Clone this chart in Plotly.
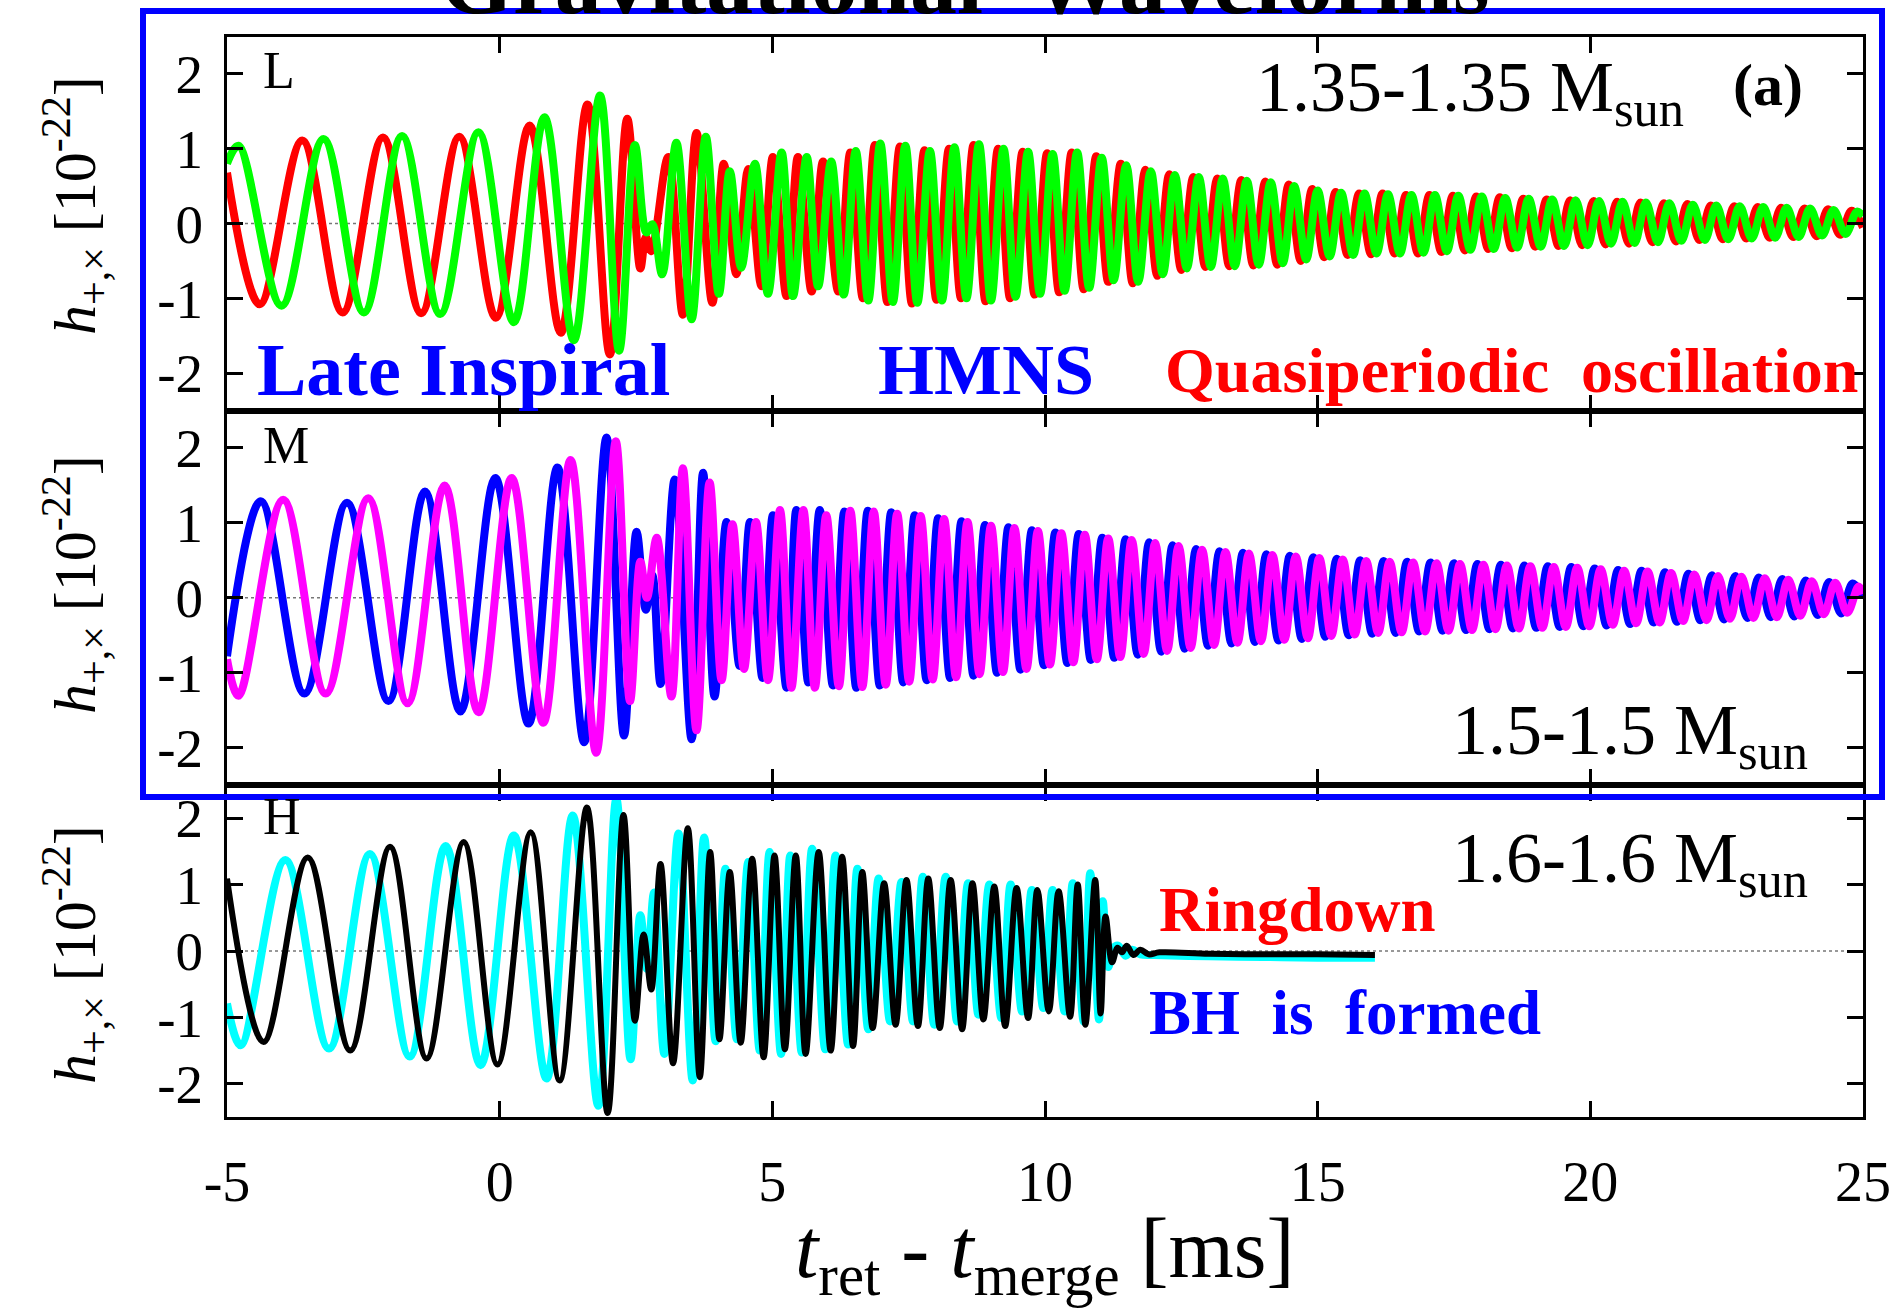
import plotly.graph_objects as go

# ---------------- data (extrema) ----------------
X_TICKS = [-5, 0, 5, 10, 15, 20, 25]
X_TICK_TEXT = ["-5", "0", "5", "10", "15", "20", "25"]
Y_TICKS = [-2, -1, 0, 1, 2]
Y_TICK_TEXT = ["-2", "-1", "0", "1", "2"]

# panel L : 1.35-1.35 Msun
L_RED = [(-5.00, 0.68), (-4.40, -1.08), (-3.62, 1.11), (-2.88, -1.19), (-2.14, 1.15), (-1.44, -1.20), (-0.74, 1.16), (-0.07, -1.26), (0.55, 1.31), (1.12, -1.46), (1.61, 1.59), (2.02, -1.75), (2.34, 1.40), (2.58, -0.60), (2.68, -0.18), (2.78, -0.37), (3.09, 0.89), (3.36, -1.22), (3.61, 1.21), (3.90, -1.06), (4.11, 0.80), (4.34, -0.68), (4.56, 0.73), (4.80, -0.84), (5.01, 0.89), (5.26, -0.97), (5.47, 0.89), (5.72, -0.91), (5.93, 0.83), (6.21, -0.91), (6.43, 0.95), (6.66, -1.00), (6.88, 1.05), (7.11, -1.05), (7.34, 1.03), (7.56, -1.07), (7.79, 0.98), (8.01, -1.02), (8.24, 1.00), (8.46, -1.00), (8.69, 1.05), (8.91, -1.04), (9.14, 1.00), (9.36, -1.00), (9.59, 0.96), (9.81, -0.95), (10.04, 0.94), (10.26, -0.92), (10.49, 0.95), (10.71, -0.88), (10.94, 0.90), (11.16, -0.78), (11.39, 0.80), (11.61, -0.80), (11.84, 0.72), (12.06, -0.70), (12.28, 0.66), (12.50, -0.62), (12.72, 0.62), (12.94, -0.58), (13.16, 0.60), (13.38, -0.57), (13.60, 0.58), (13.82, -0.56), (14.04, 0.56), (14.26, -0.55), (14.47, 0.52), (14.69, -0.50), (14.90, 0.46), (15.12, -0.45), (15.33, 0.42), (15.55, -0.42), (15.76, 0.40), (15.98, -0.41), (16.19, 0.40), (16.41, -0.40), (16.62, 0.38), (16.84, -0.40), (17.05, 0.38), (17.27, -0.38), (17.48, 0.37), (17.70, -0.36), (17.91, 0.36), (18.13, -0.34), (18.34, 0.35), (18.56, -0.33), (18.77, 0.33), (18.99, -0.31), (19.20, 0.32), (19.42, -0.30), (19.63, 0.31), (19.85, -0.29), (20.06, 0.30), (20.28, -0.28), (20.49, 0.29), (20.71, -0.27), (20.92, 0.28), (21.14, -0.25), (21.35, 0.27), (21.57, -0.24), (21.78, 0.26), (22.00, -0.22), (22.21, 0.24), (22.43, -0.21), (22.64, 0.23), (22.86, -0.20), (23.07, 0.22), (23.29, -0.19), (23.50, 0.21), (23.72, -0.18), (23.93, 0.20), (24.15, -0.17), (24.36, 0.19), (24.58, -0.15), (24.79, 0.17), (25.00, -0.05)]

L_GREEN = [(-5.00, 0.80), (-4.79, 1.04), (-4.00, -1.10), (-3.23, 1.13), (-2.49, -1.19), (-1.79, 1.17), (-1.09, -1.21), (-0.39, 1.22), (0.26, -1.32), (0.82, 1.42), (1.36, -1.56), (1.84, 1.71), (2.19, -1.70), (2.48, 1.05), (2.69, -0.12), (2.80, -0.01), (2.98, -0.68), (3.24, 1.08), (3.52, -1.28), (3.78, 1.16), (4.02, -0.94), (4.22, 0.70), (4.43, -0.59), (4.68, 0.80), (4.92, -0.94), (5.17, 0.95), (5.38, -0.97), (5.63, 0.89), (5.84, -0.84), (6.08, 0.83), (6.31, -0.95), (6.53, 0.97), (6.76, -1.03), (6.98, 1.07), (7.21, -1.05), (7.44, 1.04), (7.66, -1.06), (7.89, 0.97), (8.11, -1.03), (8.34, 1.02), (8.56, -1.00), (8.79, 1.06), (9.01, -1.03), (9.24, 1.00), (9.46, -0.98), (9.69, 0.96), (9.91, -0.94), (10.14, 0.93), (10.36, -0.90), (10.59, 0.95), (10.81, -0.86), (11.04, 0.88), (11.26, -0.76), (11.49, 0.78), (11.71, -0.78), (11.94, 0.70), (12.16, -0.68), (12.38, 0.65), (12.60, -0.60), (12.82, 0.62), (13.04, -0.58), (13.26, 0.60), (13.48, -0.57), (13.70, 0.57), (13.92, -0.55), (14.14, 0.55), (14.36, -0.53), (14.57, 0.50), (14.79, -0.48), (15.00, 0.44), (15.22, -0.44), (15.43, 0.41), (15.65, -0.42), (15.86, 0.40), (16.08, -0.40), (16.29, 0.39), (16.51, -0.40), (16.72, 0.38), (16.94, -0.39), (17.15, 0.38), (17.37, -0.37), (17.58, 0.37), (17.80, -0.35), (18.01, 0.36), (18.23, -0.34), (18.44, 0.34), (18.66, -0.32), (18.87, 0.33), (19.09, -0.31), (19.30, 0.32), (19.52, -0.30), (19.73, 0.31), (19.95, -0.29), (20.16, 0.30), (20.38, -0.27), (20.59, 0.29), (20.81, -0.26), (21.02, 0.28), (21.24, -0.25), (21.45, 0.27), (21.67, -0.23), (21.88, 0.25), (22.10, -0.22), (22.31, 0.24), (22.53, -0.21), (22.74, 0.23), (22.96, -0.20), (23.17, 0.22), (23.39, -0.19), (23.60, 0.21), (23.82, -0.18), (24.03, 0.20), (24.25, -0.16), (24.46, 0.18), (24.68, -0.14), (24.89, 0.16), (25.00, 0.10)]

# panel M : 1.5-1.5 Msun
M_BLUE = [(-5.00, -0.78), (-4.38, 1.29), (-3.58, -1.28), (-2.80, 1.27), (-2.04, -1.38), (-1.37, 1.42), (-0.72, -1.52), (-0.08, 1.60), (0.53, -1.68), (1.06, 1.74), (1.55, -1.93), (1.96, 2.14), (2.28, -1.84), (2.51, 0.88), (2.68, -0.16), (2.80, 0.30), (2.95, -1.15), (3.21, 1.58), (3.52, -1.89), (3.73, 1.67), (3.94, -1.32), (4.16, 1.01), (4.40, -0.91), (4.59, 1.01), (4.82, -1.07), (5.01, 1.10), (5.26, -1.20), (5.44, 1.17), (5.66, -1.13), (5.87, 1.17), (6.11, -1.17), (6.32, 1.15), (6.54, -1.20), (6.75, 1.16), (6.97, -1.17), (7.18, 1.14), (7.40, -1.13), (7.61, 1.10), (7.83, -1.10), (8.04, 1.06), (8.26, -1.07), (8.47, 1.02), (8.69, -1.04), (8.90, 0.97), (9.12, -1.00), (9.33, 0.94), (9.55, -0.96), (9.76, 0.90), (9.98, -0.90), (10.19, 0.87), (10.41, -0.87), (10.62, 0.85), (10.84, -0.83), (11.05, 0.80), (11.27, -0.80), (11.48, 0.78), (11.70, -0.76), (11.91, 0.74), (12.13, -0.72), (12.34, 0.70), (12.56, -0.68), (12.77, 0.65), (12.99, -0.64), (13.20, 0.62), (13.42, -0.61), (13.63, 0.60), (13.85, -0.59), (14.06, 0.58), (14.28, -0.57), (14.49, 0.56), (14.71, -0.55), (14.92, 0.54), (15.14, -0.52), (15.35, 0.52), (15.57, -0.50), (15.78, 0.50), (16.00, -0.48), (16.21, 0.49), (16.43, -0.47), (16.64, 0.48), (16.86, -0.45), (17.07, 0.47), (17.29, -0.44), (17.50, 0.46), (17.72, -0.43), (17.93, 0.45), (18.15, -0.42), (18.36, 0.44), (18.58, -0.41), (18.79, 0.43), (19.01, -0.40), (19.22, 0.42), (19.44, -0.39), (19.65, 0.41), (19.87, -0.38), (20.08, 0.39), (20.30, -0.37), (20.51, 0.37), (20.73, -0.35), (20.94, 0.36), (21.16, -0.33), (21.37, 0.34), (21.59, -0.32), (21.80, 0.32), (22.02, -0.30), (22.23, 0.30), (22.45, -0.29), (22.66, 0.29), (22.88, -0.27), (23.09, 0.27), (23.31, -0.26), (23.52, 0.25), (23.74, -0.25), (23.95, 0.23), (24.17, -0.23), (24.38, 0.21), (24.60, -0.21), (24.81, 0.19), (25.00, 0.02)]

M_MAGENTA = [(-5.00, -0.82), (-4.79, -1.31), (-3.97, 1.31), (-3.19, -1.28), (-2.41, 1.33), (-1.69, -1.41), (-1.01, 1.50), (-0.39, -1.53), (0.22, 1.60), (0.80, -1.67), (1.30, 1.84), (1.77, -2.07), (2.13, 2.09), (2.39, -1.38), (2.58, 0.48), (2.70, 0.00), (2.88, 0.80), (3.15, -1.32), (3.36, 1.73), (3.61, -1.77), (3.85, 1.54), (4.07, -1.10), (4.27, 0.98), (4.48, -0.95), (4.70, 1.01), (4.92, -1.10), (5.14, 1.17), (5.35, -1.20), (5.57, 1.17), (5.78, -1.20), (5.99, 1.10), (6.22, -1.18), (6.43, 1.16), (6.65, -1.19), (6.86, 1.15), (7.08, -1.16), (7.29, 1.12), (7.51, -1.12), (7.72, 1.09), (7.94, -1.09), (8.15, 1.05), (8.37, -1.06), (8.58, 1.01), (8.80, -1.02), (9.01, 0.96), (9.23, -0.99), (9.44, 0.93), (9.66, -0.95), (9.87, 0.89), (10.09, -0.89), (10.30, 0.86), (10.52, -0.86), (10.73, 0.84), (10.95, -0.82), (11.16, 0.79), (11.38, -0.79), (11.59, 0.77), (11.81, -0.75), (12.02, 0.73), (12.24, -0.71), (12.45, 0.69), (12.67, -0.67), (12.88, 0.64), (13.10, -0.63), (13.31, 0.61), (13.53, -0.60), (13.74, 0.59), (13.96, -0.58), (14.17, 0.57), (14.39, -0.56), (14.60, 0.55), (14.82, -0.54), (15.03, 0.53), (15.25, -0.51), (15.46, 0.51), (15.68, -0.49), (15.89, 0.49), (16.11, -0.47), (16.32, 0.48), (16.54, -0.46), (16.75, 0.47), (16.97, -0.45), (17.18, 0.46), (17.40, -0.44), (17.61, 0.45), (17.83, -0.43), (18.04, 0.44), (18.26, -0.42), (18.47, 0.43), (18.69, -0.41), (18.90, 0.42), (19.12, -0.40), (19.33, 0.41), (19.55, -0.39), (19.76, 0.40), (19.98, -0.38), (20.19, 0.38), (20.41, -0.36), (20.62, 0.36), (20.84, -0.34), (21.05, 0.35), (21.27, -0.33), (21.48, 0.33), (21.70, -0.31), (21.91, 0.31), (22.13, -0.30), (22.34, 0.29), (22.56, -0.28), (22.77, 0.28), (22.99, -0.27), (23.20, 0.26), (23.42, -0.26), (23.63, 0.24), (23.85, -0.24), (24.06, 0.22), (24.28, -0.22), (24.49, 0.20), (24.71, -0.20), (24.92, 0.15), (25.00, 0.05)]

# panel H : 1.6-1.6 Msun
H_CYAN = [(-5.00, -0.79), (-4.75, -1.42), (-3.93, 1.37), (-3.13, -1.47), (-2.38, 1.46), (-1.65, -1.59), (-0.99, 1.58), (-0.35, -1.72), (0.26, 1.74), (0.86, -1.92), (1.34, 2.04), (1.81, -2.33), (2.14, 2.29), (2.40, -1.63), (2.58, 0.54), (2.70, -0.27), (2.83, 0.88), (3.02, -1.55), (3.28, 1.77), (3.54, -1.95), (3.75, 1.71), (3.96, -1.36), (4.14, 1.24), (4.35, -1.33), (4.56, 1.34), (4.77, -1.50), (4.95, 1.49), (5.16, -1.55), (5.33, 1.44), (5.54, -1.53), (5.73, 1.54), (5.97, -1.48), (6.16, 1.44), (6.39, -1.41), (6.56, 1.24), (6.76, -1.18), (6.95, 1.09), (7.16, -1.06), (7.37, 1.04), (7.58, -1.06), (7.76, 1.12), (7.97, -1.11), (8.18, 1.12), (8.39, -1.06), (8.59, 1.02), (8.78, -0.96), (8.98, 1.00), (9.20, -1.01), (9.37, 1.00), (9.58, -0.91), (9.76, 0.92), (9.97, -0.86), (10.14, 0.92), (10.36, -0.91), (10.51, 1.02), (10.71, -1.06), (10.83, 1.17), (10.99, -1.03), (11.06, 0.75), (11.16, -0.24), (11.26, 0.05), (11.34, 0.08), (11.48, -0.07), (11.60, 0.02), (11.75, -0.05), (12.00, -0.06), (13.00, -0.08), (14.00, -0.09), (15.00, -0.10), (16.05, -0.10)]

H_BLACK = [(-5.00, 1.09), (-4.33, -1.37), (-3.52, 1.41), (-2.74, -1.50), (-2.01, 1.57), (-1.34, -1.62), (-0.66, 1.64), (-0.04, -1.71), (0.57, 1.79), (1.10, -1.95), (1.60, 2.16), (1.98, -2.44), (2.27, 2.05), (2.48, -1.05), (2.64, 0.25), (2.78, -0.58), (2.95, 1.31), (3.18, -1.69), (3.45, 1.85), (3.67, -1.90), (3.86, 1.49), (4.03, -1.33), (4.22, 1.19), (4.42, -1.38), (4.63, 1.39), (4.84, -1.60), (5.04, 1.44), (5.23, -1.48), (5.43, 1.44), (5.61, -1.55), (5.85, 1.49), (6.07, -1.50), (6.28, 1.42), (6.48, -1.43), (6.65, 1.19), (6.84, -1.16), (7.05, 1.02), (7.26, -1.11), (7.46, 1.07), (7.67, -1.13), (7.86, 1.09), (8.07, -1.16), (8.27, 1.07), (8.48, -1.18), (8.67, 1.02), (8.87, -1.03), (9.07, 0.97), (9.27, -1.13), (9.48, 0.95), (9.69, -1.01), (9.86, 0.92), (10.07, -0.91), (10.25, 0.90), (10.46, -0.99), (10.60, 1.00), (10.74, -1.11), (10.92, 1.07), (11.02, -0.94), (11.11, 0.52), (11.23, -0.17), (11.33, 0.05), (11.41, -0.02), (11.50, 0.08), (11.62, -0.06), (11.75, 0.02), (11.90, -0.05), (12.10, -0.02), (13.00, -0.04), (14.00, -0.05), (15.00, -0.05), (16.05, -0.06)]

# ---------------- layout helpers ----------------
W, H = 1903, 1311
FONT = "Liberation Serif, Times New Roman, serif"
X_DOM = [227 / W, 1863 / W]
DOM_L = [1 - 410.5 / H, 1 - 36.5 / H]
DOM_M = [1 - 785 / H, 1 - 410.5 / H]
DOM_H = [1 - 1117 / H, 1 - 785 / H]


def yaxis(domain, anchor):
    return dict(domain=domain, anchor=anchor, range=[-2.5, 2.5],
                tickmode="array", tickvals=Y_TICKS, ticktext=Y_TICK_TEXT,
                ticks="inside", ticklen=16, tickwidth=2.5, tickcolor="black",
                showline=True, linecolor="black", linewidth=3, mirror="ticks",
                showgrid=False, zeroline=False, automargin=False,
                ticklabelstandoff=10,
                tickfont=dict(family=FONT, size=55, color="black"))


def xaxis(anchor, labels):
    return dict(domain=X_DOM, anchor=anchor, range=[-5, 25],
                tickmode="array", tickvals=X_TICKS, ticktext=X_TICK_TEXT,
                ticks="inside", ticklen=16, tickwidth=2.5, tickcolor="black",
                showline=True, linecolor="black", linewidth=3, mirror="ticks",
                showgrid=False, zeroline=False, automargin=False,
                showticklabels=labels, ticklabelstandoff=14,
                tickfont=dict(family=FONT, size=56, color="black"))


def ann(text, x, y, size, color="black", xanchor="left", yanchor="middle", angle=0):
    return dict(text=text, x=x / W, y=1 - y / H, xref="paper", yref="paper",
                xanchor=xanchor, yanchor=yanchor, showarrow=False, textangle=angle,
                font=dict(family=FONT, size=size, color=color))


fig = go.Figure()


def add(series, color, width, xa, ya):
    t, h = zip(*series)
    fig.add_trace(go.Scatter(x=list(t), y=list(h), mode="lines", xaxis=xa, yaxis=ya,
                             line=dict(color=color, width=width, shape="spline", smoothing=1.0),
                             hoverinfo="skip"))


add(L_RED, "#ff0000", 8, "x", "y")
add(L_GREEN, "#00ff00", 8, "x", "y")
add(M_BLUE, "#0000ff", 8, "x2", "y2")
add(M_MAGENTA, "#ff00ff", 8, "x2", "y2")
add(H_CYAN, "#00ffff", 8, "x3", "y3")
add(H_BLACK, "#000000", 6, "x3", "y3")

shapes = []
for xr, yr in (("x", "y"), ("x2", "y2"), ("x3", "y3")):
    shapes.append(dict(type="line", xref=xr, yref=yr, x0=-5, x1=25, y0=0, y1=0,
                       line=dict(color="#777777", width=1.5, dash="dot"), layer="below"))
shapes.append(dict(type="rect", xref="paper", yref="paper",
                   x0=143 / W, x1=1882 / W, y0=1 - 797 / H, y1=1 - 11 / H,
                   line=dict(color="#0000ff", width=6), fillcolor="rgba(0,0,0,0)", layer="above"))

ytitle = "<i>h</i><sub>+,×</sub> [10<sup>-22</sup>]"
annotations = [
    ann("<b>Gravitational\u00a0\u00a0Waveforms</b>", 965, -19, 94, xanchor="center"),
    ann("L", 261, 70, 52),
    ann("M", 261, 445, 52),
    ann("H", 261, 816, 52),
    ann("1.35-1.35 M<sub>sun</sub>", 1254, 92, 72),
    ann("<b>(a)</b>", 1805, 85, 60, xanchor="right"),
    ann("1.5-1.5 M<sub>sun</sub>", 1450, 735, 72),
    ann("1.6-1.6 M<sub>sun</sub>", 1450, 863, 72),
    ann("<b>Late Inspiral</b>", 255, 370, 74, color="#0000ff"),
    ann("<b>HMNS</b>", 876, 370, 72, color="#0000ff"),
    ann("<b>Quasiperiodic\u00a0\u00a0oscillation</b>", 1163, 370, 64, color="#ff0000"),
    ann("<b>Ringdown</b>", 1157, 910, 63, color="#ff0000"),
    ann("<b>BH\u00a0\u00a0is\u00a0\u00a0formed</b>", 1147, 1013, 63, color="#0000ff"),
    ann(ytitle, 75, 206, 60, xanchor="center", angle=-90),
    ann(ytitle, 75, 585, 60, xanchor="center", angle=-90),
    ann(ytitle, 75, 955, 60, xanchor="center", angle=-90),
    ann("<i>t</i><sub>ret</sub> - <i>t</i><sub>merge</sub> [ms]", 1045, 1255, 84, xanchor="center"),
]

fig.update_layout(
    width=W, height=H, margin=dict(l=0, r=0, t=0, b=0),
    template="none", showlegend=False,
    paper_bgcolor="white", plot_bgcolor="white",
    font=dict(family=FONT, color="black"),
    xaxis=xaxis("y", False), yaxis=yaxis(DOM_L, "x"),
    xaxis2=xaxis("y2", False), yaxis2=yaxis(DOM_M, "x2"),
    xaxis3=xaxis("y3", True), yaxis3=yaxis(DOM_H, "x3"),
    shapes=shapes, annotations=annotations,
)

fig.write_html("out.html")
